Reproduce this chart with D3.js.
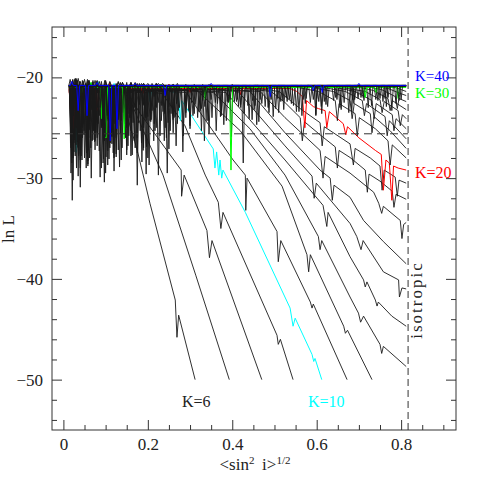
<!DOCTYPE html>
<html>
<head>
<meta charset="utf-8">
<script src="https://cdn.jsdelivr.net/npm/d3@7"></script>
<style>
body { margin: 0; background: #fff; }
text { font-family: "Liberation Serif", "DejaVu Serif", serif; }
</style>
</head>
<body>
<div id="chart"></div>
<script>
var svgWidth = 482;
var svgHeight = 482;
var margin = { top: 27, right: 26, bottom: 52, left: 52 };
var width = svgWidth - margin.left - margin.right;
var height = svgHeight - margin.top - margin.bottom;

// ---- data ----
var kValues = [6, 7, 8, 9, 10, 11, 12, 13, 14, 15, 16, 17, 18, 19, 20, 21, 22, 23,
    24, 25, 26, 27, 28, 29, 30, 31, 32, 33, 34, 35, 36, 37, 38, 39, 40];

// level of the noisy plateau for each K
var plateauBase = [-21.5, -21.4, -21.4, -21.5, -21.3, -21.4, -21.3, -21.3, -21.3, -21.2,
    -21.2, -21.2, -21.1, -21.1, -21.1, -21.0, -21.0, -21.0, -21.0, -21.0,
    -20.9, -20.9, -20.9, -20.9, -21.0, -20.9, -20.9, -20.8, -20.9, -20.8,
    -20.8, -20.8, -20.8, -20.8, -20.8];

// spikes on the plateau: [sigma, lnL at the tip]
var plateauSpikes = [
    [[0.021, -32.2], [0.030, -20.2], [0.049, -25.3], [0.060, -26.0], [0.070, -20.5], [0.087, -29.9],
        [0.100, -24.5], [0.118, -23.8]],                                                     // K6
    [[0.023, -30.2], [0.035, -27.0], [0.045, -20.3], [0.063, -24.3], [0.080, -25.5], [0.101, -27.9],
        [0.110, -20.5], [0.130, -27.2]],                                                     // K7
    [[0.028, -20.1], [0.040, -30.9], [0.055, -27.5], [0.075, -25.3], [0.090, -20.4], [0.100, -29.5],
        [0.113, -25.8], [0.130, -24.2]],                                                     // K8
    [[0.020, -28.5], [0.035, -26.3], [0.052, -20.6], [0.068, -26.3], [0.110, -27.0], [0.125, -25.3],
        [0.150, -20.5], [0.168, -26.3], [0.190, -25.0], [0.210, -23.3]],                     // K9
    [[0.030, -27.45], [0.082, -20.4], [0.120, -20.6], [0.155, -21.9], [0.205, -22.4], [0.230, -20.7]], // K10
    [[0.025, -26.5], [0.038, -20.4], [0.054, -29.0], [0.075, -27.2], [0.106, -24.3], [0.125, -26.0],
        [0.149, -24.3], [0.170, -20.6], [0.196, -24.3], [0.220, -25.0], [0.246, -29.5]],     // K11
    [[0.030, -25.0], [0.044, -28.2], [0.061, -20.3], [0.092, -24.8], [0.115, -26.6], [0.137, -28.2],
        [0.160, -24.0], [0.182, -25.3], [0.210, -20.6], [0.240, -23.6], [0.267, -26.8]],     // K12
    [[0.022, -20.2], [0.040, -29.0], [0.059, -27.25], [0.095, -25.8], [0.135, -20.5], [0.160, -23.3],
        [0.190, -27.0], [0.225, -29.7], [0.260, -24.2], [0.300, -24.8]],                     // K13
    [[0.028, -27.8], [0.047, -20.4], [0.080, -26.8], [0.118, -24.4], [0.153, -26.8], [0.200, -28.0],
        [0.239, -26.3], [0.260, -20.7], [0.290, -24.0], [0.324, -23.3]],                     // K14
    [[0.020, -25.6], [0.058, -28.3], [0.068, -20.5], [0.097, -26.3], [0.135, -24.8], [0.175, -30.7],
        [0.215, -24.6], [0.253, -25.3], [0.290, -20.7], [0.334, -26.3]],                     // K15
    [[0.033, -20.3], [0.045, -26.0], [0.071, -25.3], [0.105, -28.7], [0.125, -20.6], [0.150, -25.0],
        [0.189, -27.25], [0.240, -23.5], [0.284, -25.8], [0.362, -25.3]],                    // K16
    [[0.030, -26.7], [0.057, -20.4], [0.085, -23.8], [0.125, -27.6], [0.165, -24.5], [0.203, -28.7],
        [0.250, -20.7], [0.260, -25.5], [0.307, -23.8], [0.386, -24.3]],                     // K17
    [[0.026, -20.2], [0.062, -28.0], [0.104, -24.1], [0.145, -24.6], [0.170, -27.0], [0.180, -20.6],
        [0.217, -25.3], [0.290, -23.5], [0.343, -24.3], [0.426, -28.5]],                     // K18
    [[0.020, -24.6], [0.040, -20.4], [0.075, -26.3], [0.110, -25.0], [0.160, -27.8], [0.200, -23.9],
        [0.232, -24.3], [0.291, -22.8], [0.330, -20.7], [0.374, -23.3], [0.454, -22.8]],     // K19
    [[0.017, -23.5], [0.025, -25.1], [0.060, -21.7], [0.080, -23.3], [0.110, -20.6], [0.189, -21.6],
        [0.250, -20.7], [0.300, -21.5], [0.360, -20.8], [0.420, -21.7]],                     // K20
    [[0.018, -27.0], [0.030, -20.3], [0.047, -24.6], [0.070, -26.2], [0.094, -28.5], [0.118, -27.5],
        [0.142, -23.5], [0.185, -26.5], [0.220, -20.6], [0.262, -24.0], [0.335, -22.9], [0.398, -25.9],
        [0.470, -22.6], [0.510, -20.75], [0.552, -23.4]],                                    // K21
    [[0.026, -25.5], [0.045, -25.0], [0.066, -30.0], [0.085, -20.4], [0.108, -24.0], [0.135, -25.6],
        [0.163, -27.7], [0.190, -20.6], [0.221, -23.0], [0.283, -27.4], [0.352, -24.0], [0.420, -22.7],
        [0.460, -20.75], [0.497, -23.9], [0.585, -22.5]],                                    // K22
    [[0.019, -20.5], [0.031, -29.0], [0.055, -26.9], [0.077, -24.2], [0.098, -20.3], [0.120, -29.3],
        [0.150, -27.2], [0.178, -24.5], [0.244, -26.0], [0.312, -22.7], [0.345, -20.7], [0.380, -24.7],
        [0.452, -23.2], [0.530, -22.4], [0.612, -23.6]],                                     // K23
    [[0.025, -27.4], [0.037, -24.0], [0.060, -20.4], [0.085, -27.3], [0.108, -28.1], [0.131, -23.2],
        [0.160, -20.5], [0.196, -29.6], [0.255, -23.6], [0.327, -25.3], [0.391, -22.5], [0.463, -24.4],
        [0.545, -22.8], [0.595, -20.75], [0.640, -22.3]],                                    // K24
    [[0.019, -24.5], [0.035, -29.8], [0.056, -26.8], [0.080, -20.3], [0.101, -23.1], [0.125, -27.9],
        [0.147, -26.0], [0.175, -20.6], [0.208, -24.2], [0.275, -23.0], [0.310, -20.7], [0.345, -25.6],
        [0.410, -22.4], [0.487, -23.5], [0.573, -22.6], [0.655, -23.0]],                     // K25
    [[0.020, -24.8], [0.042, -27.8], [0.057, -20.2], [0.072, -23.5], [0.095, -26.6], [0.115, -25.4],
        [0.140, -20.5], [0.168, -23.0], [0.229, -25.8], [0.297, -23.3], [0.365, -22.6], [0.400, -20.7],
        [0.440, -24.1], [0.515, -22.4], [0.598, -23.8], [0.690, -22.2]],                     // K26
    [[0.024, -23.8], [0.040, -28.2], [0.061, -25.2], [0.078, -20.4], [0.097, -30.4], [0.115, -25.9],
        [0.137, -24.3], [0.160, -20.6], [0.191, -22.8], [0.250, -27.1], [0.321, -23.4], [0.388, -22.4],
        [0.458, -24.7], [0.540, -22.6], [0.580, -20.75], [0.626, -22.9], [0.712, -22.3]],    // K27
    [[0.018, -24.3], [0.034, -25.9], [0.058, -28.6], [0.081, -23.0], [0.100, -20.3], [0.124, -24.7],
        [0.150, -24.8], [0.175, -27.5], [0.236, -23.4], [0.270, -20.6], [0.304, -22.5], [0.372, -23.9],
        [0.448, -22.3], [0.522, -23.2], [0.605, -22.4], [0.683, -23.4], [0.740, -22.2]],     // K28
    [[0.019, -26.3], [0.036, -27.6], [0.052, -23.2], [0.070, -20.3], [0.090, -25.0], [0.120, -28.0],
        [0.153, -23.6], [0.185, -20.6], [0.214, -26.3], [0.268, -22.6], [0.340, -24.3], [0.415, -22.9],
        [0.455, -20.75], [0.492, -22.2], [0.565, -23.8], [0.648, -22.2], [0.722, -23.0], [0.762, -22.1]], // K29
    [[0.042, -21.8], [0.065, -20.5], [0.090, -24.1], [0.101, -26.0], [0.144, -26.1], [0.230, -20.7],
        [0.336, -22.2], [0.397, -29.2], [0.490, -21.6], [0.600, -20.8], [0.715, -22.0], [0.741, -21.5],
        [0.793, -22.1]],                                                                     // K30
    [[0.021, -25.0], [0.035, -20.1], [0.058, -28.8], [0.080, -26.0], [0.104, -23.8], [0.130, -20.4],
        [0.161, -25.6], [0.195, -24.0], [0.233, -22.8], [0.318, -24.0], [0.405, -22.4], [0.503, -23.1],
        [0.592, -22.2], [0.676, -23.5], [0.757, -22.4]],                                     // K31
    [[0.016, -20.2], [0.029, -23.4], [0.050, -28.0], [0.074, -26.4], [0.100, -20.4], [0.128, -23.0],
        [0.155, -25.8], [0.186, -28.4], [0.220, -20.6], [0.259, -23.8], [0.337, -22.3], [0.428, -23.6],
        [0.520, -22.3], [0.611, -22.9], [0.698, -22.1], [0.778, -23.3]],                     // K32
    [[0.018, -29.5], [0.030, -20.1], [0.045, -24.4], [0.065, -27.0], [0.087, -23.0], [0.112, -24.6],
        [0.139, -27.0], [0.170, -20.5], [0.207, -24.4], [0.250, -22.9], [0.290, -22.6], [0.374, -23.8],
        [0.466, -22.2], [0.558, -23.4], [0.645, -22.0], [0.730, -22.8], [0.800, -22.2]],     // K33
    [[0.020, -25.7], [0.035, -26.9], [0.050, -20.2], [0.067, -23.2], [0.090, -29.0], [0.112, -26.5],
        [0.140, -20.5], [0.172, -23.3], [0.205, -24.3], [0.241, -25.0], [0.327, -23.1], [0.412, -22.2],
        [0.510, -23.5], [0.600, -22.1], [0.688, -22.6], [0.769, -22.0]],                     // K34
    [[0.022, -20.3], [0.033, -26.4], [0.049, -25.7], [0.072, -24.8], [0.095, -27.4], [0.120, -22.8],
        [0.150, -23.9], [0.175, -26.0], [0.200, -20.6], [0.218, -22.9], [0.260, -20.7], [0.300, -25.1],
        [0.392, -22.4], [0.478, -22.9], [0.568, -22.2], [0.658, -23.2], [0.745, -22.3]],     // K35
    [[0.023, -28.0], [0.040, -26.2], [0.064, -23.5], [0.075, -20.3], [0.095, -24.0], [0.118, -25.2],
        [0.150, -27.7], [0.197, -26.9], [0.235, -20.6], [0.272, -23.3], [0.360, -22.5], [0.447, -24.2],
        [0.535, -22.2], [0.622, -22.7], [0.710, -22.0], [0.788, -22.6]],                     // K36
    [[0.018, -26.5], [0.038, -23.9], [0.060, -20.3], [0.082, -24.6], [0.105, -27.3], [0.133, -28.9],
        [0.160, -20.5], [0.180, -22.7], [0.215, -21.9], [0.248, -24.5], [0.330, -22.3], [0.420, -23.0],
        [0.508, -22.1], [0.598, -23.7], [0.685, -22.2], [0.765, -22.9]],                     // K37
    [[0.017, -24.2], [0.036, -27.8], [0.054, -23.0], [0.075, -25.4], [0.099, -25.9], [0.110, -20.4],
        [0.130, -23.4], [0.156, -24.0], [0.190, -20.6], [0.226, -22.5], [0.270, -24.6], [0.310, -23.6],
        [0.395, -22.2], [0.485, -23.0], [0.575, -22.1], [0.665, -22.5], [0.750, -22.1]],     // K38
    [[0.027, -26.2], [0.045, -24.9], [0.071, -22.9], [0.095, -28.1], [0.122, -24.6], [0.130, -20.5],
        [0.160, -25.3], [0.190, -22.7], [0.225, -20.6], [0.265, -23.9], [0.350, -22.2], [0.437, -22.8],
        [0.528, -22.0], [0.618, -22.4], [0.705, -22.0], [0.795, -22.3]],                     // K39
    [[0.020, -20.4], [0.035, -23.3], [0.056, -23.8], [0.080, -20.5], [0.111, -26.3], [0.127, -25.1],
        [0.170, -20.6], [0.241, -21.8], [0.350, -20.6], [0.490, -21.9], [0.592, -21.3], [0.613, -21.5],
        [0.700, -20.6]]                                                                      // K40
];

// from the point where a curve leaves the plateau to its end
var descents = [
    [[0.134, -21.4], [0.175, -27.25], [0.205, -32.5], [0.265, -42.1], [0.269, -45.8], [0.273, -43.6], [0.312, -50]],
    [[0.139, -21.4], [0.156, -22.1], [0.236, -29.7], [0.314, -39.7], [0.393, -50]],
    [[0.153, -21.6], [0.182, -23.6], [0.279, -29.2], [0.280, -31.8], [0.286, -29.7], [0.340, -35.2],
        [0.346, -37.9], [0.352, -36.2], [0.470, -50]],
    [[0.234, -21.6], [0.288, -24.8], [0.336, -29.7], [0.367, -32.4], [0.373, -35.0], [0.378, -33.4],
        [0.506, -45.6], [0.509, -46.5], [0.514, -46.0], [0.544, -50]],
    [[0.267, -21.5], [0.272, -21.8], [0.277, -24.3], [0.280, -22.3], [0.355, -27.1], [0.359, -29.0],
        [0.363, -27.4], [0.368, -29.7], [0.371, -28.2], [0.375, -30.0], [0.378, -29.2], [0.431, -33.4],
        [0.537, -42.9], [0.544, -44.7], [0.549, -43.9], [0.589, -47.5], [0.593, -48.2], [0.596, -47.9], [0.612, -50]],
    [[0.291, -21.5], [0.402, -28.2], [0.431, -29.7], [0.432, -33.2], [0.435, -30.0], [0.506, -35.3],
        [0.509, -38.3], [0.515, -36.2], [0.585, -42.3], [0.589, -42.9], [0.592, -42.5], [0.672, -50]],
    [[0.319, -21.4], [0.419, -25.3], [0.518, -30.8], [0.577, -37.6], [0.581, -39.3], [0.585, -37.6],
        [0.664, -44.7], [0.668, -45.4], [0.673, -45.1], [0.731, -50]],
    [[0.355, -21.5], [0.442, -25.1], [0.525, -29.7], [0.604, -35.8], [0.608, -37.1], [0.612, -36.2],
        [0.679, -41.8], [0.699, -43.4], [0.704, -44.3], [0.711, -43.7], [0.750, -46.5], [0.754, -47.4],
        [0.758, -46.7], [0.812, -48.7]],
    [[0.385, -21.5], [0.525, -28.2], [0.615, -32.7], [0.624, -34.8], [0.627, -33.4], [0.679, -37.8],
        [0.711, -40.1], [0.715, -40.8], [0.719, -40.3], [0.739, -42.1], [0.743, -42.7], [0.746, -42.3],
        [0.778, -43.7], [0.812, -44.7]],
    [[0.414, -21.4], [0.525, -26.8], [0.589, -29.8], [0.594, -32.0], [0.599, -30.5], [0.679, -34.5],
        [0.695, -35.8], [0.705, -37.1], [0.710, -36.2], [0.758, -39.3], [0.794, -40.1], [0.796, -41.8],
        [0.802, -40.9], [0.812, -41.0]],
    [[0.442, -21.4], [0.525, -25.5], [0.608, -29.2], [0.632, -30.0], [0.637, -32.2], [0.641, -30.7],
        [0.679, -31.9], [0.711, -34.2], [0.758, -36.3], [0.812, -38.5]],
    [[0.466, -21.4], [0.525, -24.0], [0.608, -27.25], [0.615, -30.0], [0.620, -27.85], [0.679, -29.5],
        [0.735, -31.4], [0.747, -32.5], [0.754, -33.5], [0.758, -32.8], [0.798, -34.2], [0.802, -36.0],
        [0.806, -34.6], [0.812, -34.4]],
    [[0.492, -21.4], [0.525, -22.5], [0.561, -24.0], [0.566, -26.3], [0.571, -24.4], [0.608, -25.7],
        [0.644, -26.9], [0.649, -29.0], [0.653, -27.25], [0.679, -27.95], [0.715, -29.2], [0.720, -31.4],
        [0.724, -29.6], [0.750, -30.3], [0.779, -31.3], [0.783, -32.9], [0.788, -31.6], [0.812, -32.1]],
    [[0.511, -21.4], [0.561, -23.1], [0.608, -24.5], [0.613, -26.8], [0.618, -24.9], [0.679, -26.6],
        [0.687, -28.7], [0.691, -27.05], [0.727, -28.0], [0.750, -28.8], [0.755, -31.2], [0.760, -29.2],
        [0.786, -29.9], [0.791, -31.8], [0.795, -30.2], [0.812, -30.5]],
    [[0.537, -21.1], [0.553, -21.4], [0.566, -21.9], [0.572, -25.0], [0.576, -22.3], [0.592, -22.9],
        [0.604, -23.1], [0.620, -23.3], [0.624, -25.0], [0.630, -23.4], [0.663, -24.6], [0.669, -25.7],
        [0.673, -24.9], [0.700, -26.0], [0.739, -27.25], [0.753, -27.65], [0.758, -31.2], [0.764, -28.2],
        [0.772, -28.5], [0.778, -32.2], [0.782, -28.8], [0.793, -29.0], [0.812, -29.2]],
    [[0.604, -21.4], [0.644, -22.3], [0.649, -24.3], [0.653, -22.6], [0.691, -23.6], [0.696, -25.8],
        [0.701, -24.0], [0.739, -25.1], [0.769, -26.3], [0.774, -28.7], [0.779, -26.7], [0.812, -28.0]],
    [[0.639, -21.4], [0.679, -22.3], [0.684, -24.1], [0.689, -22.6], [0.727, -23.6], [0.731, -25.5],
        [0.736, -23.9], [0.774, -25.3], [0.812, -27.05]],
    [[0.668, -21.4], [0.708, -22.3], [0.713, -23.8], [0.718, -22.6], [0.762, -23.9], [0.767, -25.8],
        [0.772, -24.3], [0.812, -26.1]],
    [[0.691, -21.4], [0.731, -22.3], [0.736, -24.1], [0.741, -22.6], [0.779, -23.7], [0.783, -25.3],
        [0.788, -24.1], [0.812, -25.1]],
    [[0.715, -21.4], [0.750, -22.2], [0.755, -23.5], [0.760, -22.4], [0.793, -23.3], [0.798, -24.8],
        [0.803, -23.7], [0.812, -24.1]],
    [[0.734, -21.3], [0.769, -22.1], [0.774, -23.3], [0.779, -22.3], [0.812, -23.2]],
    [[0.753, -21.2], [0.786, -21.9], [0.791, -23.1], [0.795, -22.1], [0.812, -22.4]],
    [[0.769, -21.1], [0.798, -21.6], [0.812, -21.8]],
    [[0.786, -21.0], [0.812, -21.4]],
    [[0.812, -21.0]],
    [[0.812, -20.9]],
    [[0.812, -20.9]],
    [[0.812, -20.8]],
    [[0.812, -20.9]],
    [[0.812, -20.8]],
    [[0.812, -20.8]],
    [[0.812, -20.8]],
    [[0.812, -20.8]],
    [[0.812, -20.8]],
    [[0.812, -20.8]]
];

var startSigma = 0.013;
var isotropicSigma = 0.8165;
var thresholdLnL = -25.6;

var xMajorTicks = [0, 0.2, 0.4, 0.6, 0.8];
var xMinorTicks = [0.05, 0.1, 0.15, 0.25, 0.3, 0.35, 0.45, 0.5, 0.55, 0.65, 0.7, 0.75, 0.85, 0.9];
var yMajorTicks = [-50, -40, -30, -20];
var yMinorTicks = [-54, -52, -48, -46, -44, -42, -38, -36, -34, -32, -28, -26, -24, -22, -18, -16];

// ---- styles ----
var highlight = { 10: "#00ffff", 20: "#ff0000", 30: "#00ff00", 40: "#0000ff" };
var spikeHalfWidth = 0.0035;

var svg = d3.select("#chart")
    .append("svg")
    .attr("width", svgWidth)
    .attr("height", svgHeight);

var chartGroup = svg.append("g")
    .attr("transform", `translate(${margin.left}, ${margin.top})`);

var x = d3.scaleLinear().domain([-0.027, 0.93]).range([0, width]);
var y = d3.scaleLinear().domain([-55, -15]).range([height, 0]);

chartGroup.append("clipPath").attr("id", "plotclip")
    .append("rect").attr("width", width).attr("height", height);

// turn plateau + spikes + descent into one polyline
function curvePoints(i) {
    var base = plateauBase[i];
    var pts = [[startSigma, base]];
    plateauSpikes[i].slice().sort((a, b) => a[0] - b[0]).forEach(function (s) {
        pts.push([s[0] - spikeHalfWidth, base], [s[0], s[1]], [s[0] + spikeHalfWidth, base]);
    });
    return pts.concat(descents[i]);
}

var line = d3.line()
    .x(d => x(d[0]))
    .y(d => y(d[1]));

var curvesGroup = chartGroup.append("g").attr("clip-path", "url(#plotclip)");
curvesGroup.selectAll("path")
    .data(kValues)
    .enter()
    .append("path")
    .attr("d", (k, i) => line(curvePoints(i)))
    .attr("fill", "none")
    .attr("stroke", k => highlight[k] || "#1a1a1a")
    .attr("stroke-width", k => highlight[k] ? 1 : 0.9)
    .attr("stroke-linejoin", "miter");

// dashed reference lines
chartGroup.append("line")
    .attr("x1", 0).attr("x2", x(isotropicSigma))
    .attr("y1", y(thresholdLnL)).attr("y2", y(thresholdLnL))
    .attr("stroke", "#333").attr("stroke-width", 1)
    .attr("stroke-dasharray", "8,5");
chartGroup.append("line")
    .attr("x1", x(isotropicSigma)).attr("x2", x(isotropicSigma))
    .attr("y1", 0).attr("y2", height)
    .attr("stroke", "#333").attr("stroke-width", 1)
    .attr("stroke-dasharray", "7,4");

// axes, ticks inward on all four sides
function styleAxis(g) {
    g.select(".domain").remove();
    g.selectAll("line").attr("stroke", "#333");
    g.selectAll("text").attr("font-size", 17).attr("fill", "#222")
        .attr("font-family", '"Liberation Serif", serif');
}
var fmtX = d => d === 0 ? "0" : d3.format(".1f")(d);
chartGroup.append("g").attr("transform", `translate(0, ${height})`)
    .call(d3.axisBottom(x).tickValues(xMajorTicks).tickSize(-10).tickPadding(8).tickFormat(fmtX))
    .call(styleAxis);
chartGroup.append("g").attr("transform", `translate(0, ${height})`)
    .call(d3.axisBottom(x).tickValues(xMinorTicks).tickSize(-5).tickFormat(""))
    .call(styleAxis);
chartGroup.append("g")
    .call(d3.axisTop(x).tickValues(xMajorTicks).tickSize(-10).tickFormat(""))
    .call(styleAxis);
chartGroup.append("g")
    .call(d3.axisTop(x).tickValues(xMinorTicks).tickSize(-5).tickFormat(""))
    .call(styleAxis);
chartGroup.append("g")
    .call(d3.axisLeft(y).tickValues(yMajorTicks).tickSize(-10).tickPadding(9).tickFormat(d3.format("d")))
    .call(styleAxis);
chartGroup.append("g")
    .call(d3.axisLeft(y).tickValues(yMinorTicks).tickSize(-5).tickFormat(""))
    .call(styleAxis);
chartGroup.append("g").attr("transform", `translate(${width}, 0)`)
    .call(d3.axisRight(y).tickValues(yMajorTicks).tickSize(-10).tickFormat(""))
    .call(styleAxis);
chartGroup.append("g").attr("transform", `translate(${width}, 0)`)
    .call(d3.axisRight(y).tickValues(yMinorTicks).tickSize(-5).tickFormat(""))
    .call(styleAxis);

chartGroup.append("rect")
    .attr("width", width).attr("height", height)
    .attr("fill", "none").attr("stroke", "#333").attr("stroke-width", 1);

// axis titles
svg.append("text")
    .attr("transform", "translate(14, 229) rotate(-90)")
    .attr("text-anchor", "middle")
    .attr("font-size", 17).attr("fill", "#222")
    .text("ln L");

var xTitle = svg.append("text")
    .attr("x", 255).attr("y", 470)
    .attr("text-anchor", "middle")
    .attr("font-size", 17).attr("fill", "#222");
xTitle.append("tspan").text("<sin");
xTitle.append("tspan").attr("font-size", 11).attr("dy", -6).text("2");
xTitle.append("tspan").attr("dy", 6).text("\u2009 i>");
xTitle.append("tspan").attr("font-size", 11).attr("dy", -6).text("1/2");

// curve labels
var labelGroup = svg.append("g").attr("font-size", 16);
labelGroup.append("text").attr("x", 415).attr("y", 81).attr("font-size", 15).attr("fill", highlight[40]).text("K=40");
labelGroup.append("text").attr("x", 415).attr("y", 98).attr("font-size", 15).attr("fill", highlight[30]).text("K=30");
labelGroup.append("text").attr("x", 415).attr("y", 178).attr("fill", highlight[20]).text("K=20");
labelGroup.append("text").attr("x", 182).attr("y", 407).attr("fill", "#222").text("K=6");
labelGroup.append("text").attr("x", 308).attr("y", 407).attr("fill", highlight[10]).text("K=10");

svg.append("text")
    .attr("transform", "translate(422, 300) rotate(-90)")
    .attr("text-anchor", "middle")
    .attr("font-size", 17).attr("letter-spacing", 2).attr("fill", "#222")
    .text("isotropic");
</script>
</body>
</html>
